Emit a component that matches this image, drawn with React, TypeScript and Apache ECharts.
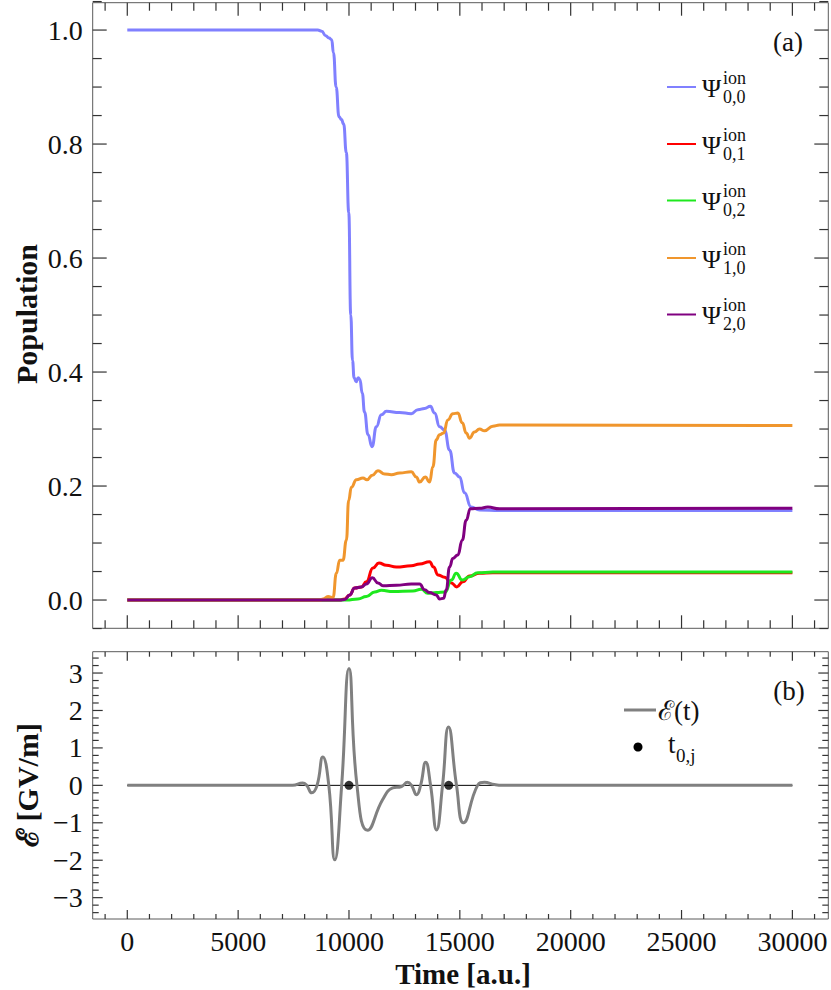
import React, { useEffect, useRef } from 'react';
import * as echarts from 'echarts';

const FONT = "'Liberation Serif', 'Times New Roman', serif";

// ---- Data (time in a.u., population / field in GV/m) ----
const psi00: number[][] = [
  [0, 1], [8590, 1], [8770, 0.998], [8950, 0.99], [9100, 0.986], [9220, 0.983], [9300, 0.96],
  [9420, 0.9], [9550, 0.848], [9660, 0.843], [9760, 0.835], [9880, 0.785], [9990, 0.68],
  [10080, 0.5], [10160, 0.42], [10230, 0.39], [10320, 0.383], [10420, 0.39], [10490, 0.387],
  [10600, 0.363], [10700, 0.33], [10860, 0.29], [11040, 0.269], [11235, 0.304], [11460, 0.325],
  [11690, 0.331], [12280, 0.329], [12810, 0.327], [13110, 0.334], [13410, 0.336], [13670, 0.34],
  [13860, 0.328], [14090, 0.304], [14310, 0.298], [14540, 0.263], [14760, 0.223], [14990, 0.216],
  [15210, 0.188], [15510, 0.163], [15890, 0.158], [16800, 0.157], [30000, 0.157],
];
const psi01: number[][] = [
  [0, 0], [9600, 0], [9806, 0.002], [10032, 0.009], [10257, 0.021], [10559, 0.023], [10784, 0.032],
  [11082, 0.056], [11352, 0.065], [11685, 0.061], [12135, 0.058], [12811, 0.06], [13185, 0.063],
  [13636, 0.067], [13816, 0.058], [14009, 0.044], [14311, 0.04], [14613, 0.03], [14866, 0.023],
  [15136, 0.032], [15438, 0.042], [15888, 0.047], [16488, 0.048], [30000, 0.048],
];
const psi02: number[][] = [
  [0, 0], [9883, 0], [10405, 0.002], [10784, 0.006], [11158, 0.014], [11460, 0.017], [11982, 0.015],
  [12883, 0.016], [13261, 0.019], [13559, 0.012], [13937, 0.013], [14342, 0.014], [14613, 0.035],
  [14838, 0.047], [15109, 0.035], [15438, 0.041], [15812, 0.048], [16488, 0.049], [30000, 0.049],
];
const psi10: number[][] = [
  [0, 0], [8700, 0], [8829, 0.002], [9054, 0.006], [9279, 0.004], [9432, 0.047], [9581, 0.07],
  [9730, 0.07], [9883, 0.105], [9986, 0.175], [10108, 0.198], [10334, 0.211], [10631, 0.214],
  [10811, 0.211], [11054, 0.219], [11307, 0.227], [11609, 0.221], [11910, 0.22], [12284, 0.223],
  [12811, 0.225], [13036, 0.216], [13185, 0.207], [13442, 0.216], [13636, 0.207], [13784, 0.234],
  [13937, 0.281], [14086, 0.29], [14266, 0.293], [14460, 0.316], [14686, 0.327], [14911, 0.328],
  [15109, 0.311], [15289, 0.293], [15438, 0.284], [15663, 0.295], [15888, 0.3], [16114, 0.297],
  [16488, 0.305], [16789, 0.307], [30000, 0.306],
];
const psi20: number[][] = [
  [0, 0], [9600, 0], [9806, 0.001], [10032, 0.009], [10257, 0.021], [10559, 0.023], [10784, 0.028],
  [11054, 0.039], [11307, 0.03], [11532, 0.025], [12135, 0.026], [12811, 0.028], [13185, 0.028],
  [13410, 0.018], [13636, 0.013], [13937, 0.009], [14086, 0.002], [14266, 0.003], [14388, 0.018],
  [14537, 0.058], [14686, 0.073], [14911, 0.079], [15109, 0.105], [15289, 0.14], [15469, 0.16],
  [15888, 0.161], [16262, 0.163], [16789, 0.16], [30000, 0.161],
];
const field: number[][] = [
  [0, 0], [7460, 0], [7910, 0.06], [8090, 0], [8320, -0.2], [8560, 0], [8820, 0.76], [9090, 0],
  [9360, -1.99], [9670, 0], [10000, 3.12], [10360, 0], [10840, -1.2], [11520, -0.38],
  [11970, -0.07], [12370, -0.03], [12640, 0.08], [12820, 0], [13050, -0.25], [13230, 0],
  [13460, 0.62], [13680, 0], [13950, -1.19], [14220, 0], [14490, 1.56], [14850, 0],
  [15170, -1.0], [15800, 0], [16110, 0.08], [16560, 0.02], [16920, 0], [30000, 0],
];
const t0j: number[][] = [[10000, 0], [14500, 0]];
const zeroLine: number[][] = [[0, 0], [30000, 0]];

const xMajor = [0, 5000, 10000, 15000, 20000, 25000, 30000];
const popMajor = [0, 0.2, 0.4, 0.6, 0.8, 1.0];
const fieldMajor = [-3, -2, -1, 0, 1, 2, 3];

const popNames = ['0,0', '0,1', '0,2', '1,0', '2,0'];
const popColors = ['#8080FF', '#FF0000', '#1EE81E', '#F0962D', '#800080'];

// ---- Layout ----
const X_MIN = -1560, X_MAX = 31620;
const P_MIN = -0.0496, P_MAX = 1.048;
const F_MIN = -3.57, F_MAX = 3.57;
const G0 = { left: 92.7, top: 2.7, width: 735.6, height: 625.6 };
const G1 = { left: 92.7, top: 651.7, width: 735.6, height: 267.3 };
const FRAME = '#5a5a5a';
const TICK = '#333333';

function range(a: number, b: number, s: number) {
  const out: number[] = [];
  for (let v = a; v <= b + 1e-9; v += s) out.push(Math.round(v * 1000) / 1000);
  return out;
}
const isIn = (v: number, arr: number[]) => arr.some((m) => Math.abs(m - v) < 1e-6);

// tick specs: [value, length]
function tickSpec(major: number[], minor: number[], lMaj: number, lMin: number) {
  return minor.filter((v) => !isIn(v, major)).map((v) => [v, lMin]).concat(major.map((v) => [v, lMaj]));
}
const xTicks0 = tickSpec(xMajor, range(-1000, 31000, 1000), 13, 8);
const xTicks1 = tickSpec(xMajor, range(-1000, 31000, 1000), 9, 5);
const yTicks0 = tickSpec(popMajor, range(-0.05, 1.05, 0.05), 14, 9);
const yTicks1 = tickSpec(fieldMajor, range(-3.4, 3.4, 0.2), 10, 6);

function buildTicks(chart: any): any[] {
  const els: any[] = [];
  const st = () => ({ stroke: TICK, lineWidth: 1.2 });
  const panels = [
    { g: 0, xt: xTicks0, yt: yTicks0, ymin: P_MIN, ymax: P_MAX },
    { g: 1, xt: xTicks1, yt: yTicks1, ymin: F_MIN, ymax: F_MAX },
  ];
  panels.forEach((p) => {
    p.xt.forEach(([v, len]) => {
      const a = chart.convertToPixel({ gridIndex: p.g }, [v, p.ymin]);
      const b = chart.convertToPixel({ gridIndex: p.g }, [v, p.ymax]);
      els.push({ type: 'line', silent: true, z: 50, shape: { x1: a[0], y1: a[1], x2: a[0], y2: a[1] - len }, style: st() });
      els.push({ type: 'line', silent: true, z: 50, shape: { x1: b[0], y1: b[1], x2: b[0], y2: b[1] + len }, style: st() });
    });
    p.yt.forEach(([v, len]) => {
      const a = chart.convertToPixel({ gridIndex: p.g }, [X_MIN, v]);
      const b = chart.convertToPixel({ gridIndex: p.g }, [X_MAX, v]);
      els.push({ type: 'line', silent: true, z: 50, shape: { x1: a[0], y1: a[1], x2: a[0] + len, y2: a[1] }, style: st() });
      els.push({ type: 'line', silent: true, z: 50, shape: { x1: b[0], y1: b[1], x2: b[0] - len, y2: b[1] }, style: st() });
    });
  });
  return els;
}

function axis(gridIndex: number, position: string, min: number, max: number, ticks: number[], label: any) {
  return {
    type: 'value', gridIndex, position, min, max,
    axisLine: { show: false, onZero: false },
    splitLine: { show: false },
    axisTick: { show: false },
    axisLabel: label ? { show: true, customValues: ticks, color: '#111', fontFamily: FONT, fontSize: 28, ...label } : { show: false },
  };
}

const xAxes = [
  axis(0, 'bottom', X_MIN, X_MAX, xMajor, null),
  axis(1, 'bottom', X_MIN, X_MAX, xMajor, { margin: 8, formatter: (v: number) => String(v) }),
];
const yAxes = [
  axis(0, 'left', P_MIN, P_MAX, popMajor, { margin: 10, formatter: (v: number) => v.toFixed(1) }),
  axis(1, 'left', F_MIN, F_MAX, fieldMajor, { margin: 10, formatter: (v: number) => (v < 0 ? '\u2212' + Math.abs(v) : String(v)) }),
];

const popData = [psi00, psi01, psi02, psi10, psi20];

const popSeries = popData.map((d, i) => ({
  type: 'line', name: 'psi' + popNames[i], xAxisIndex: 0, yAxisIndex: 0,
  data: d, showSymbol: false, smooth: 0.5, smoothMonotone: 'x',
  lineStyle: { color: popColors[i], width: 3 }, z: 2 + i,
}));

// legend graphics
const LEG_Y = [87, 144, 200.5, 258, 314.5];
const legendA: any[] = [];
popNames.forEach((s, i) => {
  const y = LEG_Y[i];
  legendA.push({ type: 'line', shape: { x1: 667, y1: y, x2: 696, y2: y }, style: { stroke: popColors[i], lineWidth: 2 } });
  legendA.push({ type: 'text', x: 702, y: y + 1, style: { text: '\u03A8', font: `26px ${FONT}`, fill: '#111', verticalAlign: 'middle' } });
  legendA.push({ type: 'text', x: 723, y: y - 9.5, style: { text: 'ion', font: `18px ${FONT}`, fill: '#111', verticalAlign: 'middle' } });
  legendA.push({ type: 'text', x: 723, y: y + 9.5, style: { text: s, font: `18px ${FONT}`, fill: '#111', verticalAlign: 'middle' } });
});

const baseGraphic: any[] = [
  ...legendA,
  { type: 'text', x: 788, y: 42, style: { text: '(a)', font: `27px ${FONT}`, fill: '#111', align: 'center', verticalAlign: 'middle' } },
  { type: 'text', x: 789, y: 691, style: { text: '(b)', font: `27px ${FONT}`, fill: '#111', align: 'center', verticalAlign: 'middle' } },
  // legend b
  { type: 'line', shape: { x1: 624, y1: 710, x2: 656, y2: 710 }, style: { stroke: '#808080', lineWidth: 3 } },
  { type: 'text', x: 658, y: 711, style: { text: '\u2130(t)', font: `27px ${FONT}`, fill: '#111', verticalAlign: 'middle' } },
  { type: 'circle', shape: { cx: 638, cy: 747, r: 4.5 }, style: { fill: '#000' } },
  { type: 'text', x: 668, y: 744, style: { text: 't', font: `27px ${FONT}`, fill: '#111', verticalAlign: 'middle' } },
  { type: 'text', x: 676, y: 755, style: { text: '0,j', font: `19px ${FONT}`, fill: '#111', verticalAlign: 'middle' } },
  // axis titles
  { type: 'text', x: 26, y: 314, rotation: Math.PI / 2, style: { text: 'Population', font: `bold 30px ${FONT}`, fill: '#111', align: 'center', verticalAlign: 'middle' } },
  { type: 'text', x: 27, y: 785, rotation: Math.PI / 2, style: { text: '\u2130 [GV/m]', font: `bold 30px ${FONT}`, fill: '#111', align: 'center', verticalAlign: 'middle' } },
  { type: 'text', x: 463, y: 974, style: { text: 'Time [a.u.]', font: `bold 29px ${FONT}`, fill: '#111', align: 'center', verticalAlign: 'middle' } },
];

const option: any = {
  animation: false,
  backgroundColor: '#fff',
  grid: [
    { ...G0, show: true, borderColor: FRAME, borderWidth: 1, backgroundColor: 'transparent', containLabel: false, outerBoundsMode: 'none' },
    { ...G1, show: true, borderColor: FRAME, borderWidth: 1, backgroundColor: 'transparent', containLabel: false, outerBoundsMode: 'none' },
  ],
  xAxis: xAxes,
  yAxis: yAxes,
  series: [
    ...popSeries,
    {
      type: 'line', xAxisIndex: 1, yAxisIndex: 1, data: zeroLine, showSymbol: false,
      lineStyle: { color: '#000', width: 1 }, z: 2,
    },
    {
      type: 'line', xAxisIndex: 1, yAxisIndex: 1, data: field, showSymbol: false, smooth: 0.5,
      lineStyle: { color: '#808080', width: 3 }, z: 3,
    },
    {
      type: 'scatter', xAxisIndex: 1, yAxisIndex: 1, data: t0j, symbol: 'circle', symbolSize: 9,
      itemStyle: { color: '#000' }, z: 4,
    },
  ],
  graphic: baseGraphic,
};

export default function App() {
  const ref = useRef<HTMLDivElement>(null);
  useEffect(() => {
    const chart = echarts.init(ref.current!, null, { renderer: 'svg' });
    chart.setOption(option);
    const ticks = buildTicks(chart);
    chart.setOption({ graphic: [...baseGraphic, ...ticks] });
    return () => chart.dispose();
  }, []);
  return (
    <div
      ref={ref}
      style={{ position: 'fixed', left: 0, top: 0, width: 831, height: 990, background: '#fff' }}
    />
  );
}
